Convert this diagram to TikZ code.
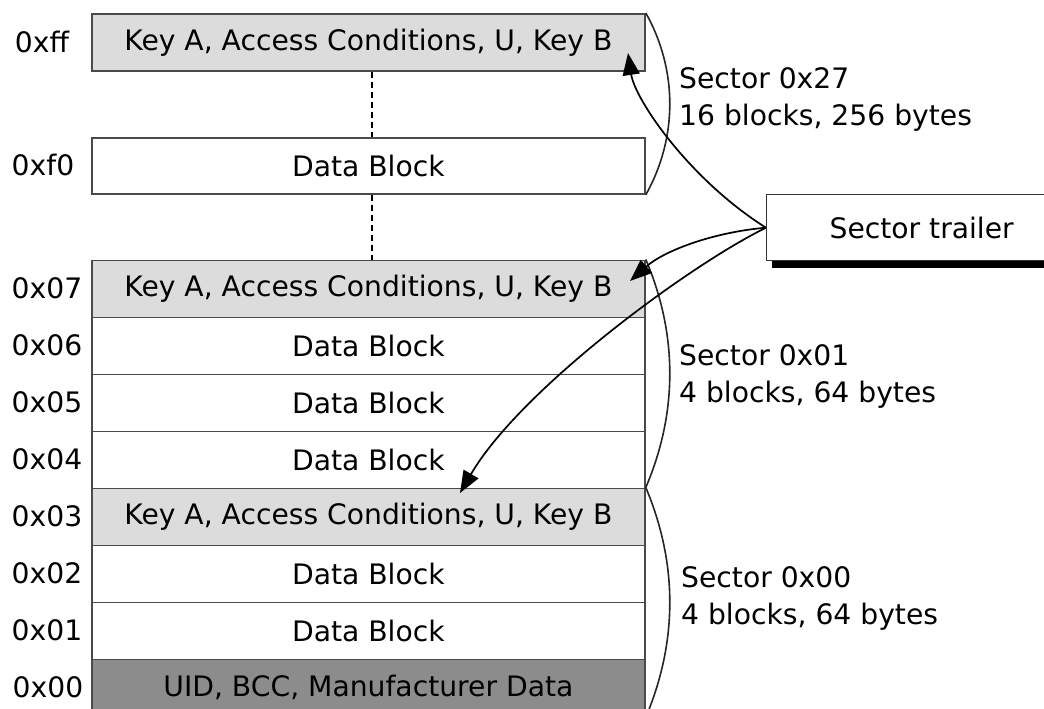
\documentclass[tikz,border=0pt]{standalone}
\usepackage{fontspec}
\setmainfont{DejaVu Sans}
\usetikzlibrary{arrows.meta,shadows}
\newcommand\diagfont{\fontsize{28.2}{37}\selectfont}
\definecolor{lightg}{HTML}{DCDCDC}
\definecolor{darkg}{HTML}{8C8C8C}
\definecolor{edge}{HTML}{4A4A4A}
\begin{document}
\begin{tikzpicture}[x=1pt,y=-1pt,
  blk/.style={draw=edge, line width=1.8pt, minimum width=553pt, minimum height=57pt,
    inner sep=0pt, anchor=north west, font=\diagfont},
  lbl/.style={font=\diagfont, inner sep=0pt},
  stxt/.style={font=\diagfont, align=left, anchor=west, inner sep=0pt},
  arc/.style={line width=1.6pt, black!85},
  arr/.style={line width=1.7pt, black, -{Triangle[length=22pt,width=17pt]}},
  dsh/.style={line width=1.5pt, dash pattern=on 6pt off 4pt}
]
\useasboundingbox (0,0) rectangle (1044,709);
\clip (0,0) rectangle (1044,709);
\fill[white] (0,0) rectangle (1044,709);

% upper sector 0x27
\node[blk, fill=lightg] (kff) at (91,13) {Key A, Access Conditions, U, Key B};
\node[blk, minimum height=56pt] (df0) at (91,137) {Data Block};
% sector 0x01 and 0x00
\node[blk, fill=lightg] (k07) at (91,259.5) {Key A, Access Conditions, U, Key B};
\node[blk] (d06) at (91,316.5) {Data Block};
\node[blk] (d05) at (91,373.5) {Data Block};
\node[blk] (d04) at (91,430.5) {Data Block};
\node[blk, fill=lightg] (k03) at (91,487.5) {Key A, Access Conditions, U, Key B};
\node[blk] (d02) at (91,544.5) {Data Block};
\node[blk] (d01) at (91,601.5) {Data Block};
\node[blk, fill=darkg] (u00) at (91,658.5) {UID, BCC, Manufacturer Data};

% address labels
\node[lbl] (lff) at (42,41.5) {0xff};
\node[lbl] (lf0) at (43,165) {0xf0};
\node[lbl] (l07) at (47,288) {0x07};
\node[lbl] (l06) at (47,345) {0x06};
\node[lbl] (l05) at (47,402) {0x05};
\node[lbl] (l04) at (47,459) {0x04};
\node[lbl] (l03) at (47,516) {0x03};
\node[lbl] (l02) at (47,573) {0x02};
\node[lbl] (l01) at (47,630) {0x01};
\node[lbl] (l00) at (48,687) {0x00};

% dashed gaps
\draw[dsh] ([xshift=3.5pt]kff.south) -- ([xshift=3.5pt]df0.north);
\draw[dsh] ([xshift=3.5pt]df0.south) -- ([xshift=3.5pt]k07.north);

% sector arcs
\draw[arc] (kff.north east) .. controls +(32,57) and +(32,-57) .. (df0.south east);
\draw[arc] (k07.north east) .. controls +(32,75) and +(32,-75) .. (k03.north east);
\draw[arc] (k03.north east) .. controls +(32,76) and +(32,-76) .. (u00.south east);

% sector labels
\node[stxt] (s27) at (679,99) {Sector 0x27\\16 blocks, 256 bytes};
\node[stxt] (s01) at (679,376.5) {Sector 0x01\\4 blocks, 64 bytes};
\node[stxt] (s00) at (681,598.5) {Sector 0x00\\4 blocks, 64 bytes};

% sector trailer
\node[draw=black!80, line width=1.4pt, fill=white, minimum width=310pt, minimum height=66pt,
  anchor=north west, inner sep=0pt, font=\diagfont,
  drop shadow={shadow xshift=5pt, shadow yshift=-7pt, fill=black, opacity=1}]
  (tr) at (766,194) {Sector trailer};

% arrow targets
\coordinate (t1) at (628,53);
\coordinate (t2) at (630,281);
\coordinate (t3) at (460,493);

\draw[arr] (tr.west) .. controls (690,180) and (635,100) .. (t1);
\draw[arr] (tr.west) .. controls (715,232) and (665,250) .. (t2);
\draw[arr] (tr.west) .. controls (688,266) and (520,390) .. (t3);
\end{tikzpicture}
\end{document}
